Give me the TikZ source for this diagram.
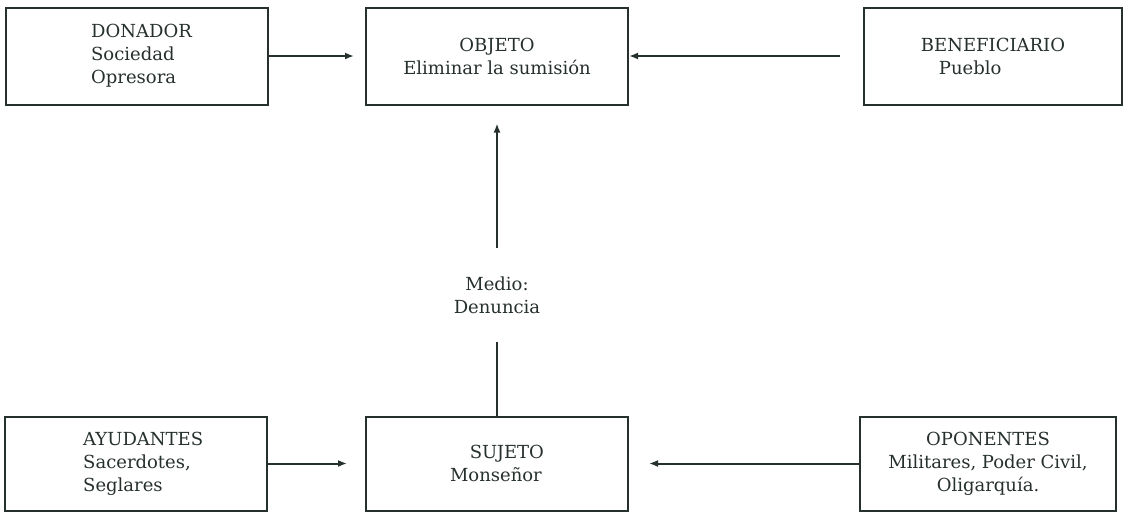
\documentclass[tikz,border=0pt]{standalone}
\usepackage{fontspec}
\setmainfont{DejaVu Serif}
\usepackage{xcolor}
\usepackage{tikz}
\usetikzlibrary{arrows.meta}
\usetikzlibrary{positioning}
\definecolor{tinta}{RGB}{38,48,44}

\begin{document}
\begin{tikzpicture}[x=1pt,y=-1pt,>={Latex[length=9pt,width=7pt]},node distance=96pt,
  color=tinta, font=\fontsize{18}{23}\selectfont]
  \tikzstyle{actante}=[draw, rectangle, line width=2pt, minimum width=262pt, minimum height=97pt, inner sep=0pt, align=left]
  \tikzstyle{flecha}=[->, line width=2pt]
  \useasboundingbox (0,0) rectangle (1130,512);
  \node[actante, align=center] (obj) at (497,56) {OBJETO\\Eliminar la sumisi\'on};
  \node[actante]  (don) [left=96pt of obj]  {\hspace*{0.5em}DONADOR\\\hspace*{0.5em}Sociedad\\\hspace*{0.5em}Opresora};
  \node[actante]  (ben) [right=234pt of obj, minimum width=258pt] {BENEFICIARIO\\\hspace*{1em}Pueblo};
  \node[actante, minimum height=94pt]  (suj) [below=310pt of obj] {\hspace*{1.1em}SUJETO\\Monse\~nor};
  \node[actante, minimum height=94pt]  (ayu) [left=97pt of suj]  {\hspace*{0.8em}AYUDANTES\\\hspace*{0.8em}Sacerdotes,\\\hspace*{0.8em}Seglares};
  \node[actante, minimum height=94pt, align=center]  (opo) [right=230pt of suj, minimum width=256pt] {OPONENTES\\Militares, Poder Civil,\\Oligarqu\'ia.};
  \node[inner sep=0pt, minimum height=93pt, align=center] (medio) [above=74pt of suj] {Medio:\\Denuncia};
  \path
    (don.east) edge[flecha, shorten >=11pt] (don.east -| obj.west)
    (ben.west) edge[flecha, shorten <=23pt] (ben.west -| obj.east)
    (ayu.east) edge[flecha, shorten >=18pt] (ayu.east -| suj.west)
    (opo.west) edge[flecha, shorten >=20pt] (opo.west -| suj.east)
    (suj.north) edge[line width=2pt] (medio.south)
    (medio.north) edge[flecha, shorten >=18pt] (obj.south);
\end{tikzpicture}
\end{document}
